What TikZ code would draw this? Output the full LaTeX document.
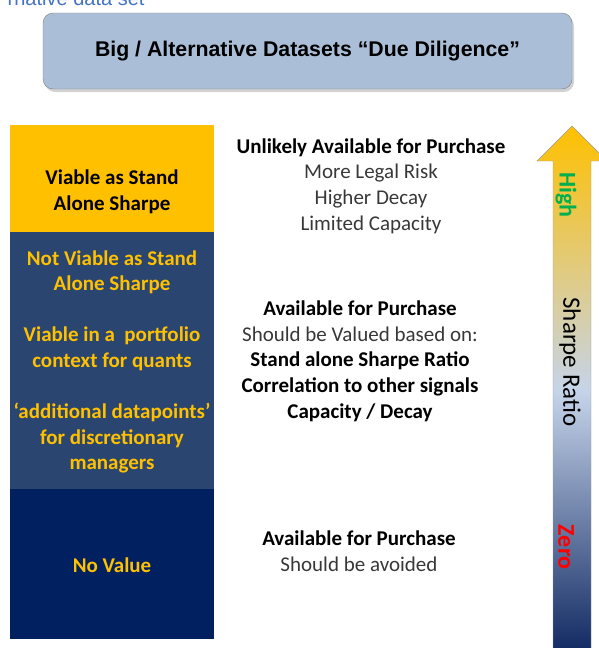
\documentclass[tikz,border=0pt]{standalone}
\usepackage{fontspec}
\setmainfont{Carlito}
\newfontfamily\arialfont{Liberation Sans}
\usepackage{tikz}
\usetikzlibrary{positioning, shadows}
\definecolor{gold}{RGB}{255,192,0}
\definecolor{slateband}{RGB}{41,69,112}
\definecolor{navyband}{RGB}{0,32,96}
\definecolor{headfill}{RGB}{170,191,215}
\definecolor{linkblue}{RGB}{68,114,196}
\definecolor{highgreen}{RGB}{0,176,80}
\definecolor{arrowmid}{RGB}{198,212,234}
\definecolor{arrowbot}{RGB}{14,39,96}
\newcommand{\notehead}[1]{\textcolor{black}{\textbf{#1}}}
\tikzstyle{header} = [rectangle, rounded corners=10pt, minimum width=529pt, minimum height=76pt, draw=gray, fill=headfill, font=\arialfont\bfseries\fontsize{21.3}{26}\selectfont, drop shadow={shadow xshift=2pt, shadow yshift=-3pt, opacity=0.35}]
\tikzstyle{band} = [rectangle, minimum width=204pt, inner sep=0pt, outer sep=0pt]
\tikzstyle{bandtext} = [align=center, font=\bfseries\fontsize{21}{25.6}\selectfont]
\tikzstyle{note} = [align=center, font=\fontsize{21}{25.7}\selectfont, text=black!78]
\tikzstyle{axislabel} = [rotate=-90, inner sep=0pt, font=\fontsize{25}{30}\selectfont]

\begin{document}
\begin{tikzpicture}[x=1pt,y=-1pt]
\useasboundingbox (0,0) rectangle (599,648);
\clip (0,0) rectangle (599,648);

\node (pagetitle) [anchor=base east, text=linkblue, font=\arialfont\fontsize{20}{24}\selectfont] at (148,5) {rnative data set};

\node (header) [header] at (307.5,51) {Big / Alternative Datasets “Due Diligence”};

% left column
\node (viable) [band, fill=gold, minimum height=107pt] at (112,178.5) {};
\node (portfolio) [band, fill=slateband, minimum height=257pt, below=0pt of viable] {};
\node (novalue) [band, fill=navyband, minimum height=150pt, below=0pt of portfolio] {};

\node (viabletext) [bandtext] at (112,192) {Viable as Stand\\Alone Sharpe};
\node (portfoliotext) [bandtext, text=gold] at (112,362) {Not Viable as Stand\\Alone Sharpe\\[25.6pt]Viable in a~ portfolio\\context for quants\\[25.6pt]‘additional datapoints’\\for discretionary\\managers};
\node (novaluetext) [bandtext, text=gold] at (112,565) {No Value};

% notes
\node (rarenote) [note] at (371,186) {\notehead{Unlikely Available for Purchase}\\More Legal Risk\\Higher Decay\\Limited Capacity};
\node (valuenote) [note] at (360,361) {\notehead{Available for Purchase}\\Should be Valued based on:\\\notehead{Stand alone Sharpe Ratio}\\\notehead{Correlation to other signals}\\\notehead{Capacity / Decay}};
\node (avoidnote) [note] at (359,551) {\notehead{Available for Purchase}\\Should be avoided};

% sharpe ratio arrow
\coordinate (tip) at (572,126);
\draw[gray!80, top color=gold, bottom color=arrowbot, middle color=arrowmid] (553,656) -- (553,161) -- (537,161) -- (tip) -- (607,161) -- (591,161) -- (591,656) -- cycle;
\node (hightext) [axislabel, text=highgreen, font=\bfseries\fontsize{24}{30}\selectfont] at (566,195) {High};
\node (sharpetext) [axislabel] at (570,362) {Sharpe Ratio};
\node (zerotext) [axislabel, text=red, font=\bfseries\fontsize{24}{30}\selectfont] at (566,547) {Zero};

\end{tikzpicture}
\end{document}
